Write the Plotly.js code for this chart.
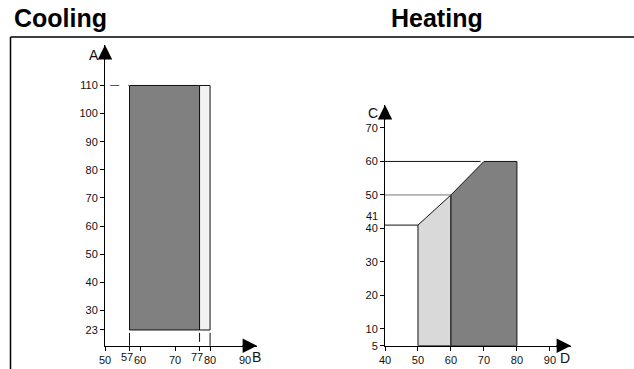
<!DOCTYPE html>
<html>
<head>
<meta charset="utf-8">
<script src="https://cdn.plot.ly/plotly-3.0.1.min.js"></script>
<style>html,body{margin:0;padding:0;background:#fff;}#chart{width:634px;height:369px;}</style>
</head>
<body>
<div id="chart"></div>
<script>
// ---- data ----
var titles = ["Cooling", "Heating"];
var axisLetters = ["A", "B", "C", "D"];
// Cooling envelope
var coolB = [57, 77, 80];          // B limits
var coolA = [23, 110];             // A limits
var coolXTicks = [50, 57, 60, 70, 77, 80, 90];
var coolXShifted = [57, 77];       // labels nudged left to avoid touching neighbours
var coolYTicks = [23, 30, 40, 50, 60, 70, 80, 90, 100, 110];
// Heating envelope
var heatD = [50, 60, 70, 80];      // D break points
var heatC = [41, 50, 60, 60];      // upper C limit at each break point
var heatBase = 5;                  // lower C limit
var heatXTicks = [40, 50, 60, 70, 80, 90];
var heatYTicks = [5, 10, 20, 30, 40, 50, 60, 70];
var heatExtraTick = 41;

var W = 634, H = 369;
var font = "Liberation Sans, Arial, Helvetica, sans-serif";
var ink = "#111";
var tickSize = 11;

var traces = [];
traces.push({x:[coolB[0],coolB[1],coolB[1],coolB[0],coolB[0]], y:[coolA[0],coolA[0],coolA[1],coolA[1],coolA[0]],
  xaxis:'x', yaxis:'y', mode:'lines', fill:'toself', fillcolor:'#808080', line:{color:ink,width:1}, hoverinfo:'skip'});
traces.push({x:[coolB[1],coolB[2],coolB[2],coolB[1],coolB[1]], y:[coolA[0],coolA[0],coolA[1],coolA[1],coolA[0]],
  xaxis:'x', yaxis:'y', mode:'lines', fill:'toself', fillcolor:'#f1f1f1', line:{color:ink,width:1}, hoverinfo:'skip'});
traces.push({x:[heatD[0],heatD[0],heatD[1],heatD[1],heatD[0]], y:[heatBase,heatC[0],heatC[1],heatBase,heatBase],
  xaxis:'x2', yaxis:'y2', mode:'lines', fill:'toself', fillcolor:'#d9d9d9', line:{color:ink,width:1}, hoverinfo:'skip'});
traces.push({x:[heatD[1],heatD[1],heatD[2],heatD[3],heatD[3],heatD[1]], y:[heatBase,heatC[1],heatC[2],heatC[3],heatBase,heatBase],
  xaxis:'x2', yaxis:'y2', mode:'lines', fill:'toself', fillcolor:'#808080', line:{color:ink,width:1}, hoverinfo:'skip'});

var shapes = [];
var fx = 10.5/W, fy = 1 - 37/H;
shapes.push({type:'line', xref:'paper', yref:'paper', x0:fx, x1:1, y0:fy, y1:fy, line:{color:'#000',width:1.5}});
shapes.push({type:'line', xref:'paper', yref:'paper', x0:fx, x1:fx, y0:fy, y1:0, line:{color:'#000',width:1.5}});
shapes.push({type:'line', xref:'x', yref:'y', x0:51.5, x1:coolB[0], y0:coolA[1], y1:coolA[1], line:{color:'#555',width:1,dash:'dash'}});
[0,1,2].forEach(function(i){
  shapes.push({type:'line', xref:'x', yref:'y', x0:coolB[i], x1:coolB[i], y0:coolA[0]-1, y1:16, line:{color:ink,width:1,dash:(i===1?'dash':'solid')}});
});
[[heatC[0],heatD[0],'#111'],[heatC[1],heatD[1],'#777'],[heatC[2],heatD[2]-1,'#111']].forEach(function(g){
  shapes.push({type:'line', xref:'x2', yref:'y2', x0:40, x1:g[1], y0:g[0], y1:g[0], line:{color:g[2],width:1}});
});

var ann = [];
ann.push({xref:'paper', yref:'paper', x:12/W, y:1-18/H, xanchor:'left', yanchor:'middle', text:'<b>'+titles[0]+'</b>', showarrow:false, font:{family:font,size:25,color:'#000'}});
ann.push({xref:'paper', yref:'paper', x:389/W, y:1-18/H, xanchor:'left', yanchor:'middle', text:'<b>'+titles[1]+'</b>', showarrow:false, font:{family:font,size:25,color:'#000'}});
function arrow(xr, yr, x, y, ax, ay){
  return {xref:xr, yref:yr, x:x, y:y, ax:ax, ay:ay, text:'', showarrow:true, arrowhead:2, arrowsize:2.4, arrowwidth:1.2, arrowcolor:'#000', standoff:0};
}
ann.push(arrow('x domain','y domain',0,1,0,16));
ann.push(arrow('x domain','y domain',1,0,-16,0));
ann.push(arrow('x2 domain','y2 domain',0,1,0,16));
ann.push(arrow('x2 domain','y2 domain',1,0,-16,0));
function letter(xr, yr, x, y, dx, dy, t){
  return {xref:xr, yref:yr, x:x, y:y, xanchor:'center', yanchor:'middle', xshift:dx, yshift:dy, text:t, showarrow:false, font:{family:font,size:14,color:ink}};
}
ann.push(letter('x domain','y domain',0,1,-11,-10,axisLetters[0]));
ann.push(letter('x domain','y domain',1,0,-1,-11,axisLetters[1]));
ann.push(letter('x2 domain','y2 domain',0,1,-12,-8,axisLetters[2]));
ann.push(letter('x2 domain','y2 domain',1,0,-6,-12,axisLetters[3]));
ann.push({xref:'x2 domain', yref:'y2', x:0, y:heatExtraTick, xanchor:'right', yanchor:'middle', xshift:-5, yshift:9, text:String(heatExtraTick), showarrow:false, font:{family:font,size:tickSize,color:ink}});
coolXShifted.forEach(function(v){
  ann.push({xref:'x', yref:'y domain', x:v, y:0, xanchor:'center', yanchor:'middle', xshift:-2.5, yshift:-11.5, text:String(v), showarrow:false, font:{family:font,size:tickSize,color:ink}});
});

function axisBase(extra){
  var a = {showgrid:false, zeroline:false, showline:true, linecolor:'#000', linewidth:1, ticks:'outside', ticklen:4, tickcolor:'#000',
    tickmode:'array', tickangle:0, tickfont:{family:font,size:tickSize,color:ink}, fixedrange:true};
  for (var k in extra) a[k] = extra[k];
  return a;
}

var coolXText = coolXTicks.map(function(v){ return coolXShifted.indexOf(v) >= 0 ? '' : String(v); });

var layout = {
  width:W, height:H, margin:{l:0,r:0,t:0,b:0}, paper_bgcolor:'#fff', plot_bgcolor:'rgba(0,0,0,0)', showlegend:false,
  xaxis: axisBase({domain:[105/W, 257/W], range:[50, 93.4], tickvals:coolXTicks, ticktext:coolXText, anchor:'y'}),
  yaxis: axisBase({domain:[1-345.7/H, 1-45/H], range:[17.41, 124.4], tickvals:coolYTicks, ticktext:coolYTicks.map(String), anchor:'x'}),
  xaxis2: axisBase({domain:[385/W, 571/W], range:[40, 96.4], tickvals:heatXTicks, ticktext:heatXTicks.map(String), anchor:'y2'}),
  yaxis2: axisBase({domain:[1-345.7/H, 1-105/H], range:[5, 76.85], tickvals:heatYTicks, ticktext:heatYTicks.map(String), anchor:'x2'}),
  shapes: shapes, annotations: ann
};

Plotly.newPlot('chart', traces, layout, {staticPlot:true, displayModeBar:false});
</script>
</body>
</html>
